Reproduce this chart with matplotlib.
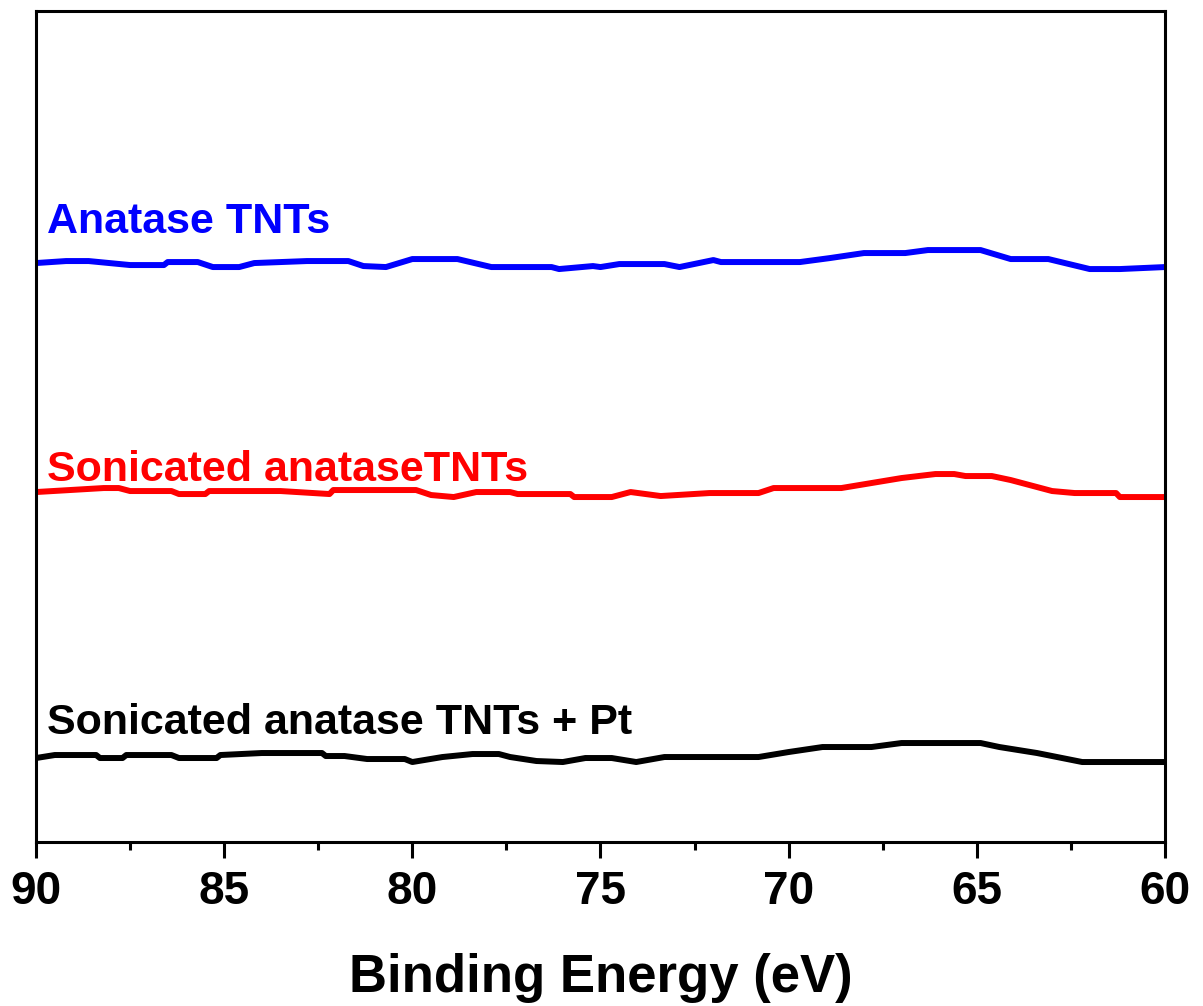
import numpy as np
import matplotlib.pyplot as plt
from matplotlib.ticker import MultipleLocator

# binding energy (eV) and intensity (a.u., offset traces)
be_blue = [90, 89.2, 88.6, 87.5, 86.6, 86.5, 85.7, 85.3, 84.6, 84.2, 82.8, 81.7, 81.3, 80.7,
           80.0, 78.8, 77.9, 76.3, 76.1, 75.2, 75.0, 74.5, 73.3, 72.9, 72.0, 71.8, 69.7,
           68.9, 68.0, 66.9, 66.3, 64.9, 64.1, 63.1, 62.0, 61.2, 60]
int_blue = [579, 581, 581, 577, 577, 580, 580, 575, 575, 579, 581, 581, 576, 575,
            583, 583, 575, 575, 573, 576, 575, 578, 578, 575, 582, 580, 580,
            584, 589, 589, 592, 592, 583, 583, 573, 573, 575]

be_red = [90, 88.2, 87.8, 87.5, 86.4, 86.2, 85.5, 85.4, 83.5, 82.2, 82.1, 79.9, 79.5, 78.9,
          78.3, 77.4, 77.2, 75.8, 75.7, 74.7, 74.2, 73.4, 72.1, 70.8, 70.4, 68.6, 67.8,
          67.0, 66.1, 65.6, 65.3, 64.6, 64.1, 63.0, 62.4, 61.3, 61.2, 60]
int_red = [350, 354, 354, 351, 351, 348, 348, 351, 351, 348, 352, 352, 347, 345,
           350, 350, 348, 348, 345, 345, 350, 346, 349, 349, 354, 354, 359,
           364, 368, 368, 366, 366, 362, 351, 349, 349, 345, 345]

be_black = [90, 89.5, 88.4, 88.3, 87.7, 87.6, 86.4, 86.2, 85.2, 85.1, 84.0, 82.4, 82.3, 81.8,
            81.2, 80.2, 80.0, 79.2, 78.4, 77.7, 77.4, 76.7, 76.0, 75.4, 74.7, 74.05, 73.3,
            70.8, 70.0, 69.1, 67.8, 67.0, 64.9, 64.4, 63.4, 62.2, 60]
int_black = [84, 87, 87, 84, 84, 87, 87, 84, 84, 87, 89, 89, 86, 86,
             83, 83, 80, 85, 88, 88, 85, 81, 80, 84, 84, 80, 85,
             85, 90, 95, 95, 99, 99, 95, 89, 80, 80]

labels = ['Anatase TNTs', 'Sonicated anataseTNTs', 'Sonicated anatase TNTs + Pt']
colors = ['#0000ff', '#ff0000', '#000000']
label_y = [609, 361, 108]

bold = ['Liberation Sans', 'DejaVu Sans']
narrow = ['Liberation Sans Narrow', 'Liberation Sans', 'DejaVu Sans']

fig = plt.figure(figsize=(12.03, 10.06), dpi=100)
ax = fig.add_axes([0.0299, 0.163, 0.9385, 0.826])

for be, inten, c in zip([be_blue, be_red, be_black], [int_blue, int_red, int_black], colors):
    ax.plot(be, inten, color=c, lw=4.3, solid_joinstyle='round')

for txt, c, y in zip(labels, colors, label_y):
    ax.text(89.72, y, txt, color=c, fontsize=31, fontweight='bold', family=bold,
            ha='left', va='baseline')

ax.set_xlim(90, 60)
ax.set_ylim(0, 831)
ax.xaxis.set_major_locator(MultipleLocator(5))
ax.xaxis.set_minor_locator(MultipleLocator(2.5))
ax.set_yticks([])
ax.tick_params(axis='x', which='major', direction='out', length=11.5, width=2.2, pad=9)
ax.tick_params(axis='x', which='minor', direction='out', length=6, width=2.2)
for lab in ax.get_xticklabels():
    lab.set_family(narrow)
    lab.set_fontweight('bold')
    lab.set_fontsize(33)
for sp in ax.spines.values():
    sp.set_linewidth(2.2)

ax.set_xlabel('Binding Energy (eV)', fontsize=38, fontweight='bold', family=bold, labelpad=28)

fig.savefig('out.png', dpi=100)
